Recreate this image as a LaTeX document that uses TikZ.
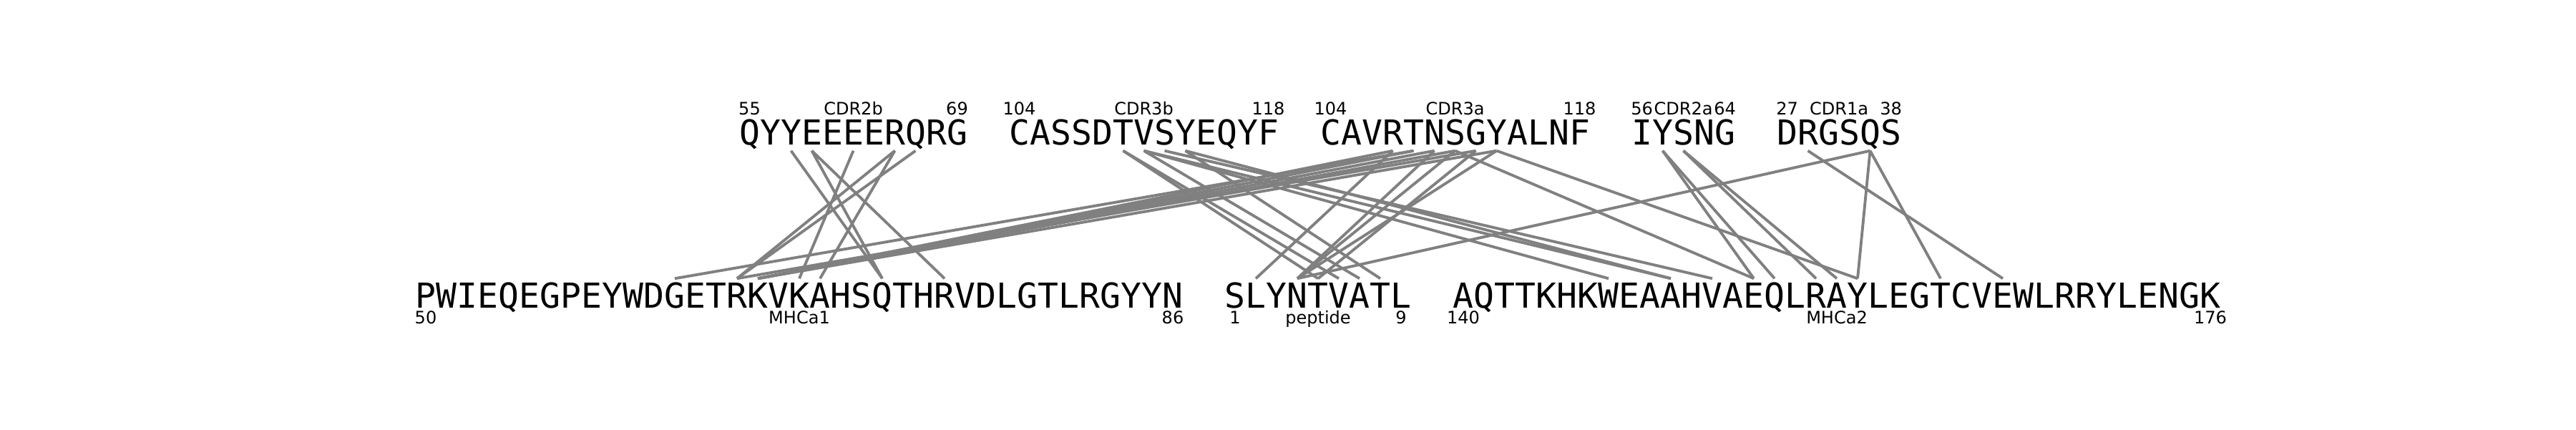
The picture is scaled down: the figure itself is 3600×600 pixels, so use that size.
\documentclass[tikz,border=0pt]{standalone}
\usepackage{fontspec}
\usepackage{tikz}
\newfontfamily\resfont{DejaVu Sans Mono}
\newfontfamily\labfont{DejaVu Sans}

\begin{document}
\begin{tikzpicture}[x=0.01cm,y=-0.01cm,
  toprow/.style={inner sep=0pt,anchor=base,text height=0.35cm,text depth=0.08cm,font=\resfont\fontsize{13.66}{14}\selectfont},
  botrow/.style={inner sep=0pt,anchor=base,text height=0.40cm,text depth=0pt,font=\resfont\fontsize{13.66}{14}\selectfont},
  lab/.style={inner sep=0pt,anchor=base,font=\labfont\fontsize{6.83}{7}\selectfont},
  contact/.style={draw=gray,line width=1.1pt}]
  \useasboundingbox (0,0) rectangle (3600,600);
  % TCR loops
  \foreach \c [count=\k from 0] in {Q,Y,Y,E,E,E,E,R,Q,R,G}
    \node[toprow] (cdr2b-\k) at ({1047.5+29*\k},202) {\c};
  \foreach \c [count=\k from 0] in {C,A,S,S,D,T,V,S,Y,E,Q,Y,F}
    \node[toprow] (cdr3b-\k) at ({1424.5+29*\k},202) {\c};
  \foreach \c [count=\k from 0] in {C,A,V,R,T,N,S,G,Y,A,L,N,F}
    \node[toprow] (cdr3a-\k) at ({1859.5+29*\k},202) {\c};
  \foreach \c [count=\k from 0] in {I,Y,S,N,G}
    \node[toprow] (cdr2a-\k) at ({2294.5+29*\k},202) {\c};
  \foreach \c [count=\k from 0] in {D,R,G,S,Q,S}
    \node[toprow] (cdr1a-\k) at ({2497.5+29*\k},202) {\c};
  \node[lab] (cdr2b-from) at (1047.5,160) {55};
  \node[lab] (cdr2b-name) at (1192.5,160) {CDR2b};
  \node[lab] (cdr2b-to) at (1337.5,160) {69};
  \node[lab] (cdr3b-from) at (1424.5,160) {104};
  \node[lab] (cdr3b-name) at (1598.5,160) {CDR3b};
  \node[lab] (cdr3b-to) at (1772.5,160) {118};
  \node[lab] (cdr3a-from) at (1859.5,160) {104};
  \node[lab] (cdr3a-name) at (2033.5,160) {CDR3a};
  \node[lab] (cdr3a-to) at (2207.5,160) {118};
  \node[lab] (cdr2a-from) at (2294.5,160) {56};
  \node[lab] (cdr2a-name) at (2352.5,160) {CDR2a};
  \node[lab] (cdr2a-to) at (2410.5,160) {64};
  \node[lab] (cdr1a-from) at (2497.5,160) {27};
  \node[lab] (cdr1a-name) at (2570,160) {CDR1a};
  \node[lab] (cdr1a-to) at (2642.5,160) {38};
  % MHC and peptide
  \foreach \c [count=\k from 0] in {P,W,I,E,Q,E,G,P,E,Y,W,D,G,E,T,R,K,V,K,A,H,S,Q,T,H,R,V,D,L,G,T,L,R,G,Y,Y,N}
    \node[botrow] (mhc1-\k) at ({595+29*\k},430) {\c};
  \foreach \c [count=\k from 0] in {S,L,Y,N,T,V,A,T,L}
    \node[botrow] (pep-\k) at ({1726+29*\k},430) {\c};
  \foreach \c [count=\k from 0] in {A,Q,T,T,K,H,K,W,E,A,A,H,V,A,E,Q,L,R,A,Y,L,E,G,T,C,V,E,W,L,R,R,Y,L,E,N,G,K}
    \node[botrow] (mhc2-\k) at ({2045+29*\k},430) {\c};
  \node[lab] (mhc1-from) at (595,452) {50};
  \node[lab] (mhc1-name) at (1117,452) {MHCa1};
  \node[lab] (mhc1-to) at (1639,452) {86};
  \node[lab] (pep-from) at (1726,452) {1};
  \node[lab] (pep-name) at (1842,452) {peptide};
  \node[lab] (pep-to) at (1958,452) {9};
  \node[lab] (mhc2-from) at (2045,452) {140};
  \node[lab] (mhc2-name) at (2567,452) {MHCa2};
  \node[lab] (mhc2-to) at (3089,452) {176};
  % contacts
  \foreach \a/\b in {cdr2b-2/mhc1-22, cdr2b-3/mhc1-22, cdr2b-3/mhc1-25, cdr2b-5/mhc1-18,
      cdr2b-7/mhc1-15, cdr2b-7/mhc1-19, cdr2b-8/mhc1-15,
      cdr3b-5/pep-4, cdr3b-5/pep-5, cdr3b-6/pep-6, cdr3b-6/mhc2-7, cdr3b-6/mhc2-10,
      cdr3b-7/mhc2-12, cdr3b-8/pep-7, cdr3b-8/mhc2-10,
      cdr3a-3/pep-1, cdr3a-3/mhc1-16, cdr3a-4/mhc1-12, cdr3a-4/mhc1-16, cdr3a-5/mhc1-16,
      cdr3a-5/pep-3, cdr3a-6/mhc1-16, cdr3a-6/pep-3, cdr3a-7/mhc1-15, cdr3a-7/pep-4,
      cdr3a-8/pep-3, cdr3a-8/mhc1-16, cdr3a-6/mhc2-14, cdr3a-8/mhc2-19,
      cdr2a-1/mhc2-14, cdr2a-1/mhc2-15, cdr2a-2/mhc2-17, cdr2a-2/mhc2-18,
      cdr1a-1/mhc2-26, cdr1a-4/pep-3, cdr1a-4/mhc2-19, cdr1a-4/mhc2-23}
    \draw[contact] (\a.south) -- (\b.north);
\end{tikzpicture}
\end{document}
